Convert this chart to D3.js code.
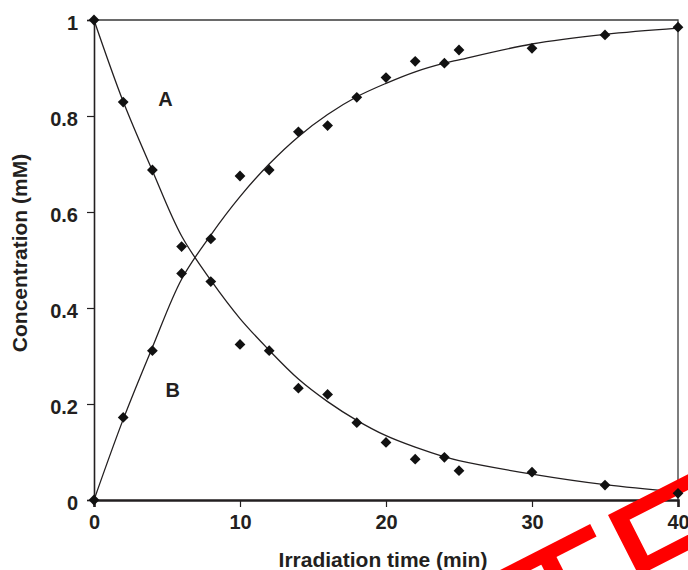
<!DOCTYPE html>
<html>
<head>
<meta charset="utf-8">
<script src="https://cdn.jsdelivr.net/npm/d3@7"></script>
<style>
  body { margin: 0; background: #fff; }
  text { font-family: "Liberation Sans", Arial, Helvetica, sans-serif; font-weight: bold; fill: #231f20; }
</style>
</head>
<body>
<svg id="chart" width="688" height="570"></svg>
<script>
// measured points (irradiation time in min, concentration in mM)
const times = [0, 2, 4, 6, 8, 10, 12, 14, 16, 18, 20, 22, 24, 25, 30, 35, 40];
const concA = [1, 0.829, 0.6875, 0.528, 0.455, 0.324, 0.311, 0.233, 0.22, 0.161, 0.12, 0.085, 0.089, 0.061, 0.058, 0.031, 0.014];
const concB = [0, 0.172, 0.311, 0.472, 0.544, 0.675, 0.6875, 0.767, 0.78, 0.839, 0.88, 0.914, 0.91, 0.9375, 0.941, 0.969, 0.985];

// fitted curves
const fitT = [0, 2, 4, 6, 8, 10, 12, 14, 16, 18, 20, 22, 24, 25, 30, 35, 40];
const fitA = [1, 0.83, 0.686, 0.55, 0.458, 0.378, 0.312, 0.252, 0.205, 0.166, 0.134, 0.11, 0.09, 0.082, 0.054, 0.032, 0.017];
const fitB = [0, 0.168, 0.318, 0.46, 0.552, 0.632, 0.7, 0.757, 0.803, 0.84, 0.868, 0.892, 0.91, 0.917, 0.95, 0.97, 0.983];

const xTicks = [0, 10, 20, 30, 40];
const yTicks = [0, 0.2, 0.4, 0.6, 0.8, 1];
const curveLabels = [{name: "A", t: 4.9, v: 0.82}, {name: "B", t: 5.4, v: 0.215}];

const svg = d3.select("#chart");
const margin = {top: 20, right: 10, bottom: 70, left: 94};
const width = 688, height = 570;

const x = d3.scaleLinear([0, 40], [margin.left, width - margin.right]);
const y = d3.scaleLinear([0, 1], [height - margin.bottom, margin.top]);

// frame (top + right)
svg.append("path")
    .attr("fill", "none")
    .attr("stroke", "#3a3a3a")
    .attr("stroke-width", 1.3)
    .attr("d", `M${x(0)},${y(1)}H${x(40)}V${y(0)}`);

// y axis
svg.append("g")
    .attr("transform", `translate(${x(0)},0)`)
    .call(d3.axisLeft(y).tickValues(yTicks).tickSize(7).tickPadding(9)
      .tickFormat(d => d3.format("~g")(d)))
    .call(g => g.select(".domain").attr("stroke", "#231f20").attr("stroke-width", 1.6))
    .call(g => g.selectAll(".tick line").attr("stroke", "#231f20").attr("stroke-width", 1.2))
    .call(g => g.selectAll(".tick text")
      .attr("font-size", 20).attr("dy", "0.45em").attr("fill", "#231f20"));

// x axis
svg.append("g")
    .attr("transform", `translate(0,${y(0)})`)
    .call(d3.axisBottom(x).tickValues(xTicks).tickSize(7).tickPadding(8))
    .call(g => g.select(".domain").attr("stroke", "#231f20").attr("stroke-width", 2.6))
    .call(g => g.selectAll(".tick line").attr("stroke", "#231f20").attr("stroke-width", 1.2))
    .call(g => g.selectAll(".tick text").attr("font-size", 20).attr("fill", "#231f20"));

// axis titles
svg.append("text")
    .attr("x", 383).attr("y", 567)
    .attr("text-anchor", "middle")
    .attr("font-size", 21)
    .text("Irradiation time (min)");

svg.append("text")
    .attr("transform", "translate(27,253) rotate(-90)")
    .attr("text-anchor", "middle")
    .attr("font-size", 21)
    .text("Concentration (mM)");

// fitted lines
const line = d3.line()
    .x(d => x(d[0]))
    .y(d => y(d[1]))
    .curve(d3.curveCatmullRom.alpha(0.5));

for (const fit of [fitA, fitB]) {
  svg.append("path")
      .attr("fill", "none")
      .attr("stroke", "#231f20")
      .attr("stroke-width", 1.3)
      .attr("d", line(d3.zip(fitT, fit)));
}

// curve names
svg.append("g")
  .selectAll("text")
  .data(curveLabels)
  .join("text")
    .attr("x", d => x(d.t))
    .attr("y", d => y(d.v))
    .attr("text-anchor", "middle")
    .attr("font-size", 20)
    .text(d => d.name);

// stamp in the lower right corner
const stamp = svg.append("g")
    .attr("transform", "translate(608,515) rotate(-27)")
    .attr("fill", "#ff0000");
stamp.append("rect").attr("x", -130).attr("y", 0).attr("width", 110).attr("height", 14);
stamp.append("rect").attr("x", -82).attr("y", 13).attr("width", 17).attr("height", 70);
stamp.append("path")
    .attr("fill-rule", "evenodd")
    .attr("d", "M0,0H100V68H0Z M17,14V54H83V14Z");

// markers
const diamond = d3.symbol(d3.symbolSquare, 58);
const pts = [...d3.zip(times, concA), ...d3.zip(times, concB)];
svg.append("g")
    .attr("fill", "#111")
  .selectAll("path")
  .data(pts)
  .join("path")
    .attr("transform", d => `translate(${x(d[0])},${y(d[1])}) rotate(45)`)
    .attr("d", diamond);
</script>
</body>
</html>
